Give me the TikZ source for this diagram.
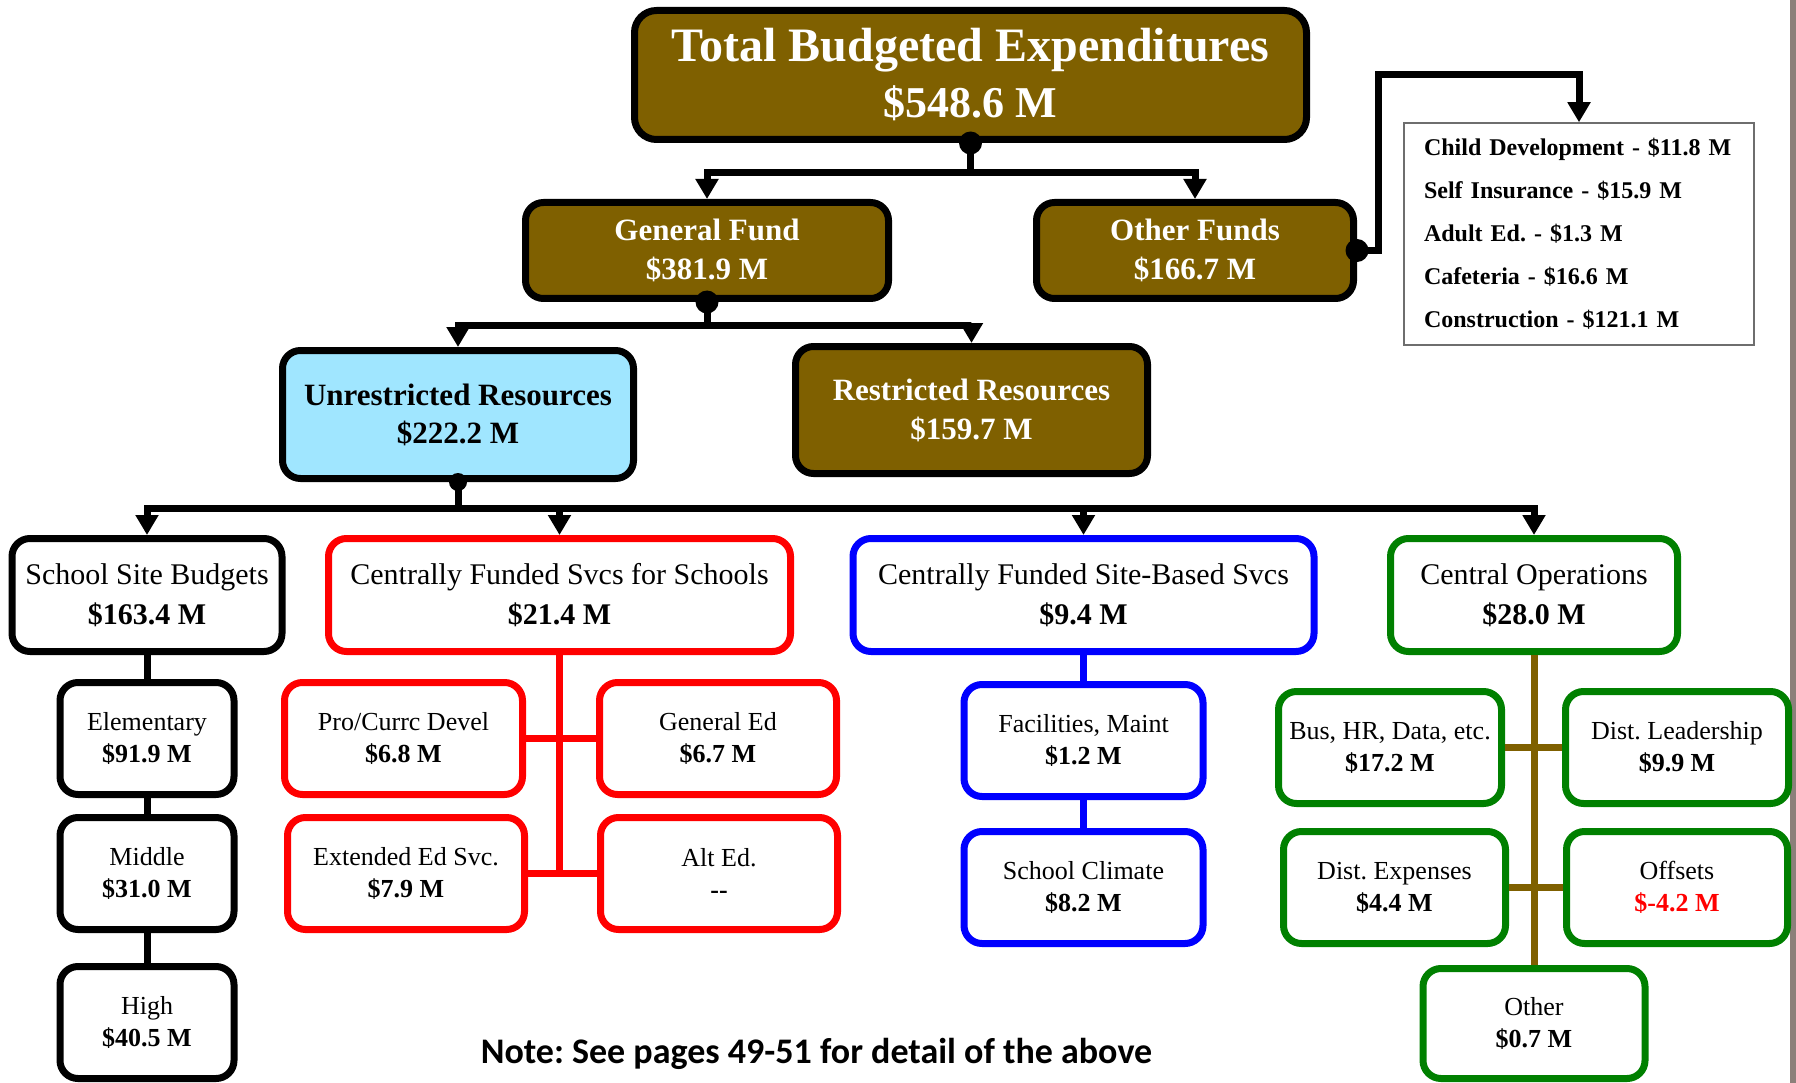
\documentclass[tikz,border=0pt]{standalone}
\usepackage{fontspec}
\setmainfont{Liberation Serif}
\newfontfamily\notefont{Carlito}
\usetikzlibrary{arrows.meta}
\frenchspacing
\definecolor{budbrown}{RGB}{127,96,0}
\definecolor{ltcyan}{RGB}{160,230,255}
\definecolor{dgreen}{RGB}{0,128,0}
\definecolor{edgegray}{RGB}{140,128,122}
\definecolor{listgray}{RGB}{110,110,110}
\begin{document}
\frenchspacing
\begin{tikzpicture}[x=1pt,y=-1pt,
  box/.style={draw, rounded corners=18pt, line width=7pt, align=center, inner sep=0pt},
  brownbox/.style={box, fill=budbrown, text=white, font=\bfseries\fontsize{31}{39}\selectfont},
  catbox/.style={box, fill=white, minimum height=113pt, font=\fontsize{30}{40}\selectfont},
  subbox/.style={box, fill=white, minimum height=112pt, font=\fontsize{26}{32}\selectfont},
  conn/.style={line width=7pt},
  arr/.style={-{Triangle[width=22pt,length=20pt]}},
]
\useasboundingbox (0,0) rectangle (1796,1083);
\fill[white] (0,0) rectangle (1796,1083);
\fill[edgegray] (1790,0) rectangle (1796,1083);

% top levels
\node[brownbox, rounded corners=22pt, minimum width=672pt, minimum height=129pt,
      font=\bfseries\fontsize{48}{56}\selectfont] (top) at (970.5,75)
  {Total Budgeted Expenditures\\{\fontsize{44}{56}\selectfont \$548.6 M}};
\node[brownbox, minimum width=363pt, minimum height=96pt] (gf) at (707,250.5) {General Fund\\\$381.9 M};
\node[brownbox, minimum width=317pt, minimum height=96pt] (of) at (1195,250.5) {Other Funds\\\$166.7 M};
\node[box, fill=ltcyan, font=\bfseries\fontsize{31}{38}\selectfont, minimum width=351pt, minimum height=128pt] (ur) at (458,414.5) {Unrestricted Resources\\\$222.2 M};
\node[brownbox, minimum width=352pt, minimum height=127pt] (rr) at (971.5,410) {Restricted Resources\\\$159.7 M};

\node[draw=listgray, line width=1.5pt, minimum width=350pt, minimum height=222pt, text width=310pt,
      inner xsep=20pt, inner ysep=0pt, align=left, font=\bfseries\fontsize{24}{43}\selectfont] (list) at (1579,234)
  {Child Development - \$11.8 M\\Self Insurance - \$15.9 M\\Adult Ed. - \$1.3 M\\Cafeteria - \$16.6 M\\Construction - \$121.1 M};

% categories
\node[catbox, minimum width=270pt] (ssb) at (147,595) {School Site Budgets\\\textbf{\$163.4 M}};
\node[catbox, draw=red, minimum width=462pt] (cfs) at (559.5,595) {Centrally Funded Svcs for Schools\\\textbf{\$21.4 M}};
\node[catbox, draw=blue, minimum width=461pt] (cfsb) at (1083.5,595) {Centrally Funded Site-Based Svcs\\\textbf{\$9.4 M}};
\node[catbox, draw=dgreen, minimum width=287pt] (cops) at (1534,595) {Central Operations\\\textbf{\$28.0 M}};

% school site
\node[subbox, minimum width=174pt] (elem) at (147,738.5) {Elementary\\\textbf{\$91.9 M}};
\node[subbox, minimum width=174pt] (mid) at (147,873.5) {Middle\\\textbf{\$31.0 M}};
\node[subbox, minimum width=174pt] (high) at (147,1022.5) {High\\\textbf{\$40.5 M}};

% central svcs for schools
\node[subbox, draw=red, minimum width=238pt] (pcd) at (403.5,738.5) {Pro/Currc Devel\\\textbf{\$6.8 M}};
\node[subbox, draw=red, minimum width=237pt] (ge) at (718,738.5) {General Ed\\\textbf{\$6.7 M}};
\node[subbox, draw=red, minimum width=237pt] (eed) at (406,873.5) {Extended Ed Svc.\\\textbf{\$7.9 M}};
\node[subbox, draw=red, minimum width=237pt] (alt) at (719,873.5) {Alt Ed.\\\textbf{-{}-}};

% site-based
\node[subbox, draw=blue, minimum width=239pt] (fac) at (1083.5,740.5) {Facilities, Maint\\\textbf{\$1.2 M}};
\node[subbox, draw=blue, minimum width=239pt] (sc) at (1083.5,887.5) {School Climate\\\textbf{\$8.2 M}};

% central operations
\node[subbox, draw=dgreen, minimum width=223pt] (bus) at (1390,747.5) {Bus, HR, Data, etc.\\\textbf{\$17.2 M}};
\node[subbox, draw=dgreen, minimum width=223pt] (dl) at (1677,747.5) {Dist. Leadership\\\textbf{\$9.9 M}};
\node[subbox, draw=dgreen, minimum width=222pt] (de) at (1394.5,887.5) {Dist. Expenses\\\textbf{\$4.4 M}};
\node[subbox, draw=dgreen, minimum width=221pt] (off) at (1677,887.5) {Offsets\\\textbf{\textcolor{red}{\$-4.2 M}}};
\node[subbox, draw=dgreen, minimum width=222pt, minimum height=110pt] (other) at (1534,1023.5) {Other\\\textbf{\$0.7 M}};

% connectors
\coordinate (j1) at (970.5,173);
\draw[conn] (top.south) -- (j1);
\draw[conn,arr] (j1) -| (gf.north);
\draw[conn,arr] (j1) -| (of.north);
\fill (top.south) circle (11.5pt);

\coordinate (j2) at (707,325);
\draw[conn] (gf.south) -- (j2);
\draw[conn,arr] (j2) -| (ur.north);
\draw[conn,arr] (j2) -| (rr.north);
\fill (gf.south) circle (11.5pt);

\coordinate (k1) at (1378,75);
\draw[conn,arr] (of.east) -| (k1) -| (list.north);
\fill (of.east) circle (11.5pt);

\coordinate (j3) at (458,508);
\draw[conn] (ur.south) -- (j3);
\draw[conn,arr] (j3) -| (ssb.north);
\draw[conn,arr] (j3) -| (cfs.north);
\draw[conn,arr] (j3) -| (cfsb.north);
\draw[conn,arr] (j3) -| (cops.north);
\fill (ur.south) circle (9pt);

\draw[conn] (ssb.south) -- (elem.north) (elem.south) -- (mid.north) (mid.south) -- (high.north);
\draw[conn,red] (cfs.south) -- (cfs.south |- eed.east);
\draw[conn,red] (pcd.east) -- (ge.west) (eed.east) -- (alt.west);
\draw[conn,blue] (cfsb.south) -- (fac.north) (fac.south) -- (sc.north);
\draw[conn,budbrown] (cops.south) -- (other.north);
\draw[conn,budbrown] (bus.east) -- (dl.west) (de.east) -- (off.west);

\node[font=\notefont\bfseries\fontsize{36}{40}\selectfont, anchor=base, inner sep=0pt] (note) at (816.5,1063)
  {Note: See pages 49-51 for detail of the above};
\end{tikzpicture}
\end{document}
